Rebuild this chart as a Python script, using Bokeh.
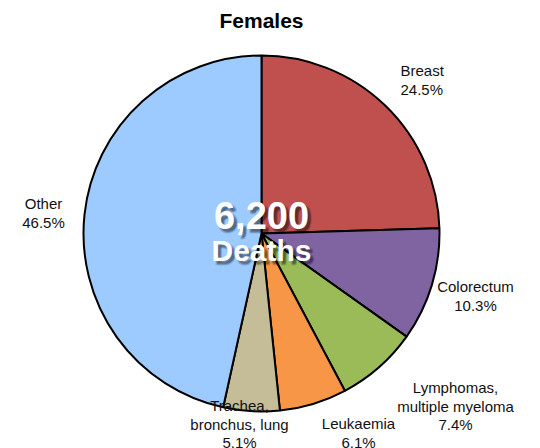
import math
from bokeh.plotting import figure
from bokeh.models import Range1d, ColumnDataSource
from bokeh.core.properties import value
from bokeh.embed import file_html
from bokeh.resources import INLINE

# ---- data ----
categories = ["Breast", "Colorectum", "Lymphomas,\nmultiple myeloma", "Leukaemia",
              "Trachea,\nbronchus, lung", "Other"]
percents = [24.5, 10.3, 7.4, 6.1, 5.1, 46.5]
colors = ["#C0504D", "#8064A2", "#9BBB59", "#F79646", "#C4BD97", "#9DCBFF"]
total_deaths = "6,200"
title = "Females"

W, H = 540, 448
p = figure(width=W, height=H, output_backend="svg", toolbar_location=None,
           x_range=Range1d(0, W), y_range=Range1d(0, H), min_border=0)
p.axis.visible = False
p.grid.visible = False
p.outline_line_color = None

def Y(py):  # page pixel y -> data y
    return H - py
def X(px):
    return px

cx, cy, r = X(261), Y(233), 178
tot = sum(percents)
starts, ends = [], []
acc = 0.0
for v in percents:
    starts.append(math.pi / 2 - 2 * math.pi * acc / tot)
    acc += v
    ends.append(math.pi / 2 - 2 * math.pi * acc / tot)

src = ColumnDataSource(dict(start=starts, end=ends, color=colors))
p.wedge(x=cx, y=cy, radius=r, start_angle="start", end_angle="end", direction="clock",
        fill_color="color", line_color="black", line_width=2, source=src)

font = value("Liberation Sans")
# labels: (page x, page y of first line, align)
label_pos = [(400, 70, "left"), (475, 286, "center"), (455, 387, "center"),
             (358, 423, "center"), (239, 405, "center"), (43, 203, "center")]
lh = 18.5
for name, pct, (lx, ly, al) in zip(categories, percents, label_pos):
    lines = name.split("\n") + [f"{pct:.1f}%"]
    for i, t in enumerate(lines):
        p.text(x=[X(lx)], y=[Y(ly + i * lh)], text=[t], text_font=font,
               text_font_size="15px", text_color="#111111", text_align=al,
               text_baseline="middle")

# title
p.text(x=[X(261)], y=[Y(20)], text=[title], text_font=font, text_font_size="21px",
       text_font_style="bold", text_color="black", text_align="center",
       text_baseline="middle")

# center text with soft shadow
for dx, dy, a in [(3, 3, 0.2), (2, 4, 0.12), (4, 2, 0.12), (4, 4, 0.1), (3, 5, 0.08)]:
    p.text(x=[X(261 + dx)], y=[Y(215 + dy)], text=[total_deaths], text_font=font,
           text_font_size="38px", text_font_style="bold", text_color="black",
           text_alpha=a, text_align="center", text_baseline="middle")
    p.text(x=[X(261 + dx)], y=[Y(250 + dy)], text=["Deaths"], text_font=font,
           text_font_size="30px", text_font_style="bold", text_color="black",
           text_alpha=a, text_align="center", text_baseline="middle")
p.text(x=[X(261)], y=[Y(215)], text=[total_deaths], text_font=font,
       text_font_size="38px", text_font_style="bold", text_color="white",
       text_align="center", text_baseline="middle")
p.text(x=[X(261)], y=[Y(250)], text=["Deaths"], text_font=font,
       text_font_size="30px", text_font_style="bold", text_color="white",
       text_align="center", text_baseline="middle")

open("out.html", "w").write(file_html(p, INLINE))
